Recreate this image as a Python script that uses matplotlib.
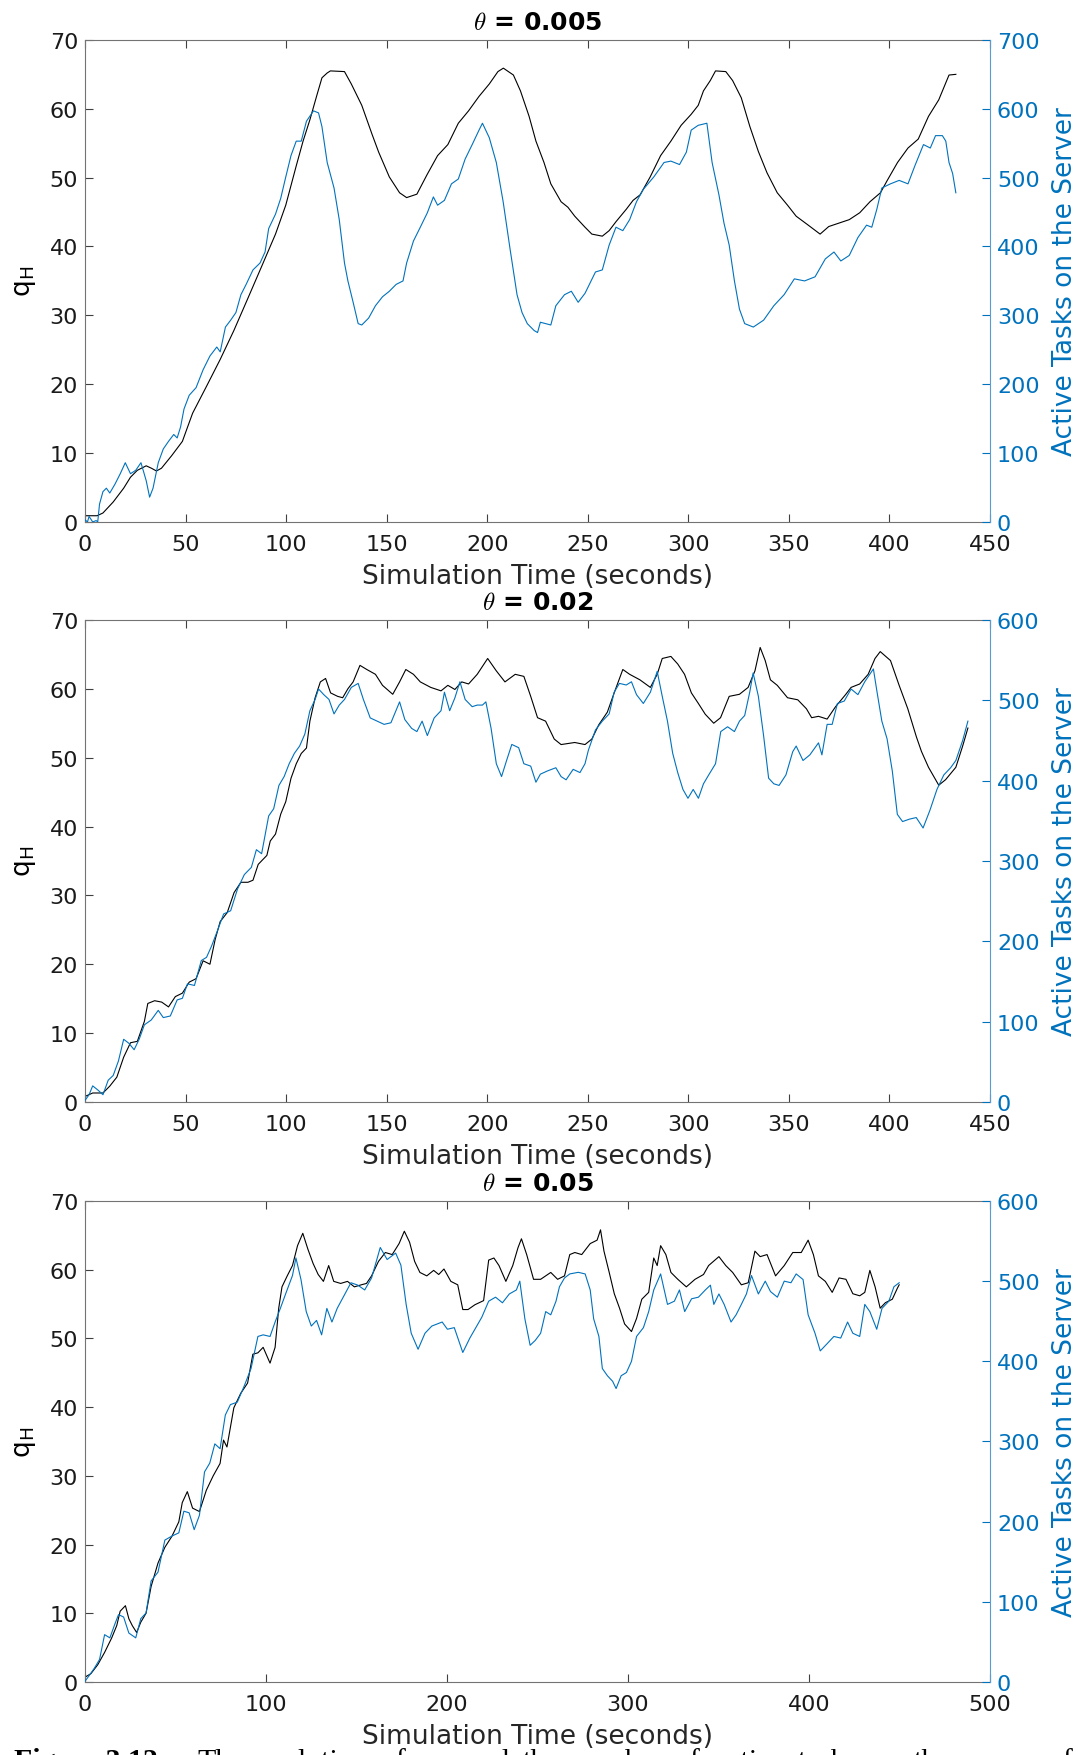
import numpy as np
import matplotlib
matplotlib.use('Agg')
import matplotlib.pyplot as plt

plt.rcParams['font.family'] = ['DejaVu Sans']
plt.rcParams['mathtext.fontset'] = 'cm'

BLUE = '#0072BD'
AX_GRAY = '#404040'

# (time in s, q_H) and (time in s, active tasks) for each theta
qh_005 = [
    (0, 0.9), (6, 0.9), (8.9, 1.3), (14, 2.9), (19.2, 4.9), (22.6, 6.5), (26, 7.5),
    (30.4, 8.15), (33, 7.8), (35.5, 7.4), (38, 7.8), (43, 9.6), (48.4, 11.7),
    (51, 13.8), (53.5, 15.8), (60.4, 19.7), (67.2, 23.6), (74, 27.8), (81, 32.5),
    (87.8, 37.1), (94.7, 41.8), (99.8, 46), (105, 51.7), (108.4, 55.3), (111.8, 58.4),
    (115.3, 62), (117.8, 64.5), (120.4, 65.2), (122, 65.5), (129, 65.4), (132.4, 63.6),
    (137.6, 60.5), (142.7, 56.3), (146, 53.7), (151.3, 50.1), (156.4, 47.8),
    (159.9, 47.1), (165, 47.6), (170, 50.4), (175.3, 53.2), (180.4, 54.8),
    (185.6, 57.9), (190.7, 59.7), (195.9, 61.8), (201, 63.6), (205.3, 65.4),
    (208, 65.9), (213, 64.9), (216.5, 62.6), (220.8, 58.9), (224.2, 55.3),
    (228.2, 52.2), (231.6, 49.1), (236.7, 46.5), (240.1, 45.7), (243.5, 44.4),
    (248.6, 42.8), (252, 41.8), (257.2, 41.5), (260.6, 42.3), (264, 43.6),
    (269.1, 45.4), (272.5, 46.7), (276, 47.5), (281, 50.1), (286.2, 53.2),
    (291.3, 55.3), (296.4, 57.6), (301.4, 59.2), (304.9, 60.5), (307.5, 62.6),
    (310.9, 64.1), (313.5, 65.5), (318.6, 65.4), (322, 64.1), (326.3, 61.6),
    (330.6, 57.4), (334.8, 53.8), (339.1, 50.7), (344.2, 47.8), (349.3, 46),
    (353.6, 44.4), (359.6, 43.1), (365.5, 41.8), (369.8, 42.9), (374.9, 43.4),
    (380, 43.9), (385.2, 44.9), (390.3, 46.5), (395.5, 47.8), (398.9, 49.6),
    (404, 52.2), (409.2, 54.3), (414.3, 55.6), (419.4, 58.9), (424.5, 61.3),
    (429.6, 64.9), (433, 65),
]
tasks_005 = [
    (0, 3), (1.2, 0), (2, 8), (3.8, 0), (5.5, 2), (6.3, 0), (7.2, 26), (8.9, 44),
    (10.6, 49), (12.3, 42), (14.9, 55), (17.5, 70), (20, 86), (22.6, 70), (25.2, 75),
    (27.8, 86), (30.4, 60), (32.1, 36), (33.8, 49), (36.4, 86), (38.9, 106),
    (41.5, 117), (44.1, 127), (45.8, 122), (47.5, 138), (49.2, 164), (51.8, 184),
    (55.2, 195), (58.7, 221), (62.1, 241), (65.5, 254), (67.2, 247), (69.8, 283),
    (72.4, 293), (75, 304), (77.5, 330), (80.1, 345), (83.5, 366), (87, 376),
    (89.5, 392), (91.3, 426), (94.7, 447), (97.3, 470), (99.8, 501), (102.4, 532),
    (105, 553), (107.5, 553), (110.1, 582), (113.6, 597), (116.1, 594), (117.8, 574),
    (120.4, 522), (123.8, 485), (126.4, 439), (129, 376), (130.7, 350), (133.3, 319),
    (135.8, 288), (137.6, 286), (141, 296), (144.4, 314), (147.9, 327), (151.3, 335),
    (154.7, 345), (158.1, 350), (159.9, 376), (163.3, 408), (166.7, 428),
    (170.2, 449), (173.2, 472), (175.3, 460), (178.7, 467), (182.2, 491),
    (185.6, 498), (189, 527), (192.5, 548), (195.9, 569), (197.6, 579), (201, 558),
    (204.5, 522), (207.9, 465), (211.3, 397), (214.8, 330), (217.3, 304),
    (219.9, 288), (223.3, 278), (225, 275), (226.4, 290), (231.6, 286), (234.1, 314),
    (238.4, 330), (241.8, 335), (245.2, 319), (248.6, 332), (253.8, 363),
    (257.2, 366), (260.6, 402), (264, 428), (267.4, 423), (270.8, 439), (274.2, 465),
    (277.6, 483), (282.8, 501), (287.9, 522), (291.3, 524), (295.6, 519), (299, 537),
    (301.4, 569), (304.9, 576), (309.2, 579), (311.8, 522), (315.2, 475),
    (317.7, 434), (320.3, 402), (322.9, 350), (325.4, 309), (328, 288), (332.3, 283),
    (337.4, 293), (342.5, 314), (347.6, 330), (352.7, 353), (357.8, 350), (363, 356),
    (368.1, 382), (372.4, 392), (375.8, 379), (380, 387), (384.3, 413), (388.6, 431),
    (391.2, 428), (393.7, 454), (396.2, 485), (400.5, 491), (404.8, 496),
    (409.2, 491), (412.6, 517), (416.9, 548), (420.3, 543), (422.9, 561),
    (426.3, 561), (428, 553), (429.6, 522), (431.4, 506), (433, 478),
]

qh_02 = [
    (0, 0.8), (3.8, 1.3), (8.9, 1.3), (12.3, 2.3), (15.8, 3.6), (19.2, 6.5),
    (22.6, 8.6), (26, 8.8), (29.5, 11.7), (31.2, 14.3), (34.6, 14.7), (38.1, 14.5),
    (41.5, 13.8), (44.9, 15.3), (48.4, 15.8), (51.8, 17.4), (55.2, 17.9),
    (58.7, 20.5), (62.1, 20), (64.7, 23.6), (67.2, 26.2), (70.7, 27.5), (74.1, 30.4),
    (77.5, 31.9), (81, 31.9), (83.5, 32.2), (86.1, 34.5), (90.4, 35.8), (92.1, 37.9),
    (94.7, 38.9), (97.3, 41.8), (99.8, 43.6), (102.4, 47), (105, 49.1),
    (107.5, 50.6), (110.1, 51.4), (111.8, 55.3), (114.4, 58.7), (117, 61),
    (119.6, 61.5), (122.1, 59.4), (125.6, 58.9), (128.1, 58.7), (130.7, 60),
    (133.3, 61), (136.7, 63.4), (140.1, 62.8), (144.4, 62.1), (147.9, 60.5),
    (153, 59.2), (156.4, 61), (159.5, 62.8), (163.3, 62.1), (166.7, 61),
    (171.9, 60.2), (177, 59.7), (180.4, 60.5), (183.9, 59.9), (187.3, 61),
    (190.7, 60.7), (195, 62.1), (200.2, 64.4), (204.5, 62.6), (208.8, 61),
    (213.9, 62.1), (218.2, 61.8), (221.6, 58.9), (225, 55.8), (229, 55.3),
    (233.3, 52.7), (236.7, 51.9), (243.5, 52.2), (248.6, 51.9), (252, 52.7),
    (255.5, 54.8), (259.7, 56.6), (263.1, 59.4), (267.4, 62.8), (270.8, 62.1),
    (275.9, 61.3), (281.1, 60.2), (284.5, 62.1), (287, 64.4), (291.3, 64.7),
    (294.7, 63.6), (298.1, 62.1), (301.5, 59.4), (304.9, 57.9), (308.4, 56.3),
    (312.6, 55), (316, 55.8), (320.3, 58.9), (325.4, 59.2), (329.7, 60.2),
    (333.1, 62.6), (335.7, 66), (338.2, 64.1), (340.8, 61.3), (344.2, 60.5),
    (349.3, 58.7), (354.4, 58.4), (358.7, 57.1), (361.3, 55.8), (364.7, 56),
    (369, 55.6), (373.2, 57.4), (378.3, 59.2), (380.9, 60.2), (385.2, 60.7),
    (389.4, 62.1), (392.8, 64.4), (395.4, 65.4), (400.5, 64.1), (404.8, 60.5),
    (409.1, 57.1), (413.4, 53), (415.9, 50.9), (419.4, 48.6), (424.5, 46),
    (427.9, 46.8), (433, 48.6), (436.4, 51.7), (439, 54.3),
]
tasks_02 = [
    (0, 2), (2, 9), (3.8, 20), (6.3, 15), (8.9, 9), (11.5, 27), (14, 33), (16.6, 51),
    (19.2, 78), (21.8, 73), (24.4, 65), (26.9, 78), (29.5, 96), (32.9, 102),
    (36.4, 114), (38.9, 105), (42.4, 107), (45.8, 127), (48.4, 129), (50.9, 147),
    (54.4, 145), (57.8, 176), (60.4, 180), (62.9, 194), (65.5, 211), (68.9, 234),
    (72.4, 238), (75.8, 265), (79.2, 283), (82.7, 292), (85.2, 314), (87.8, 309),
    (91.3, 356), (93.8, 365), (96.4, 394), (99, 405), (101.5, 421), (104.1, 434),
    (106.7, 443), (109.3, 458), (111.8, 487), (114.4, 501), (116.1, 514),
    (118.7, 507), (121.3, 501), (123.8, 483), (126.4, 494), (129, 501), (132.4, 516),
    (135.8, 521), (138.4, 501), (141.8, 478), (145.3, 474), (148.7, 470),
    (152.1, 472), (156.4, 498), (159, 476), (162.4, 465), (165, 461), (167.6, 474),
    (170.2, 456), (173.6, 478), (177, 487), (178.7, 510), (181.3, 487), (183.9, 503),
    (186.4, 523), (189, 501), (192.5, 492), (195, 494), (197.6, 494), (199.3, 498),
    (201.9, 465), (204.5, 421), (207.1, 405), (209.6, 425), (212.2, 445),
    (215.6, 441), (218.2, 421), (221.6, 418), (224.2, 398), (226.4, 408),
    (229.9, 412), (234.1, 416), (236.7, 405), (239.2, 401), (242.7, 414),
    (246.1, 410), (248.6, 421), (250.3, 438), (253.8, 463), (257.2, 474),
    (260.6, 483), (263.1, 510), (265.7, 521), (269.1, 519), (271.7, 523),
    (274.2, 507), (277.6, 496), (281.1, 510), (284.5, 536), (287, 505), (289.6, 474),
    (292.2, 434), (294.7, 410), (297.3, 389), (299.8, 378), (302.4, 389), (305, 378),
    (307.5, 396), (310.1, 407), (313.5, 421), (316.1, 461), (319.5, 467),
    (322.9, 461), (325.4, 474), (328, 481), (330.5, 510), (332.2, 534), (334.8, 505),
    (337.4, 456), (339.9, 403), (342.5, 396), (345.1, 394), (348.5, 407),
    (351.9, 436), (353.6, 443), (357, 425), (360.4, 432), (364.7, 447), (366.4, 432),
    (369, 470), (371.5, 470), (374.1, 496), (377.5, 499), (380.9, 514), (384.3, 507),
    (387.7, 523), (392, 539), (393.7, 512), (396.2, 474), (398.8, 452), (401.4, 412),
    (403.9, 358), (406.5, 349), (409.9, 352), (413.3, 354), (416.7, 341),
    (420.1, 363), (423.6, 389), (427, 407), (430.4, 416), (433, 425), (436.4, 450),
    (439, 474),
]

qh_05 = [
    (0, 0.7), (3.2, 1.2), (7, 2.5), (10.8, 4.3), (14.7, 6.4), (17.5, 8.2),
    (19.4, 10.3), (22.3, 11.1), (24.2, 9.2), (26.1, 8.2), (28.5, 7.2), (30.8, 8.7),
    (33.7, 10), (36.5, 13.9), (40.3, 17.3), (44.1, 19.6), (48, 21.2), (51.8, 23.3),
    (53.7, 26.1), (56.5, 27.7), (59.4, 25.3), (63.2, 24.8), (67, 27.9), (70.8, 30),
    (74.6, 31.8), (76.5, 35.2), (78.4, 34.2), (82.2, 39.9), (86, 42), (89.8, 43.5),
    (92.7, 47.7), (95.5, 47.9), (98.4, 48.7), (102.2, 46.4), (105, 48.7),
    (107, 54.4), (108.8, 57.5), (111.7, 59.1), (114.6, 60.6), (117.4, 63.5),
    (120.3, 65.3), (123.1, 63), (126, 60.9), (128.8, 59.3), (131.7, 58.3),
    (134.6, 60.6), (137.4, 58.3), (141.2, 58), (145, 58.3), (148.8, 57.5),
    (152.6, 57.8), (155.5, 58), (158.3, 59.1), (162.1, 61.2), (165.9, 62.5),
    (169.7, 62.2), (173.5, 63.8), (176.4, 65.6), (179.3, 64), (182.1, 61.2),
    (185, 59.6), (188.8, 59.1), (192.6, 59.9), (195.4, 59.3), (198.3, 60.1),
    (202.1, 58.3), (205.9, 57.8), (208.7, 54.2), (211.6, 54.2), (215.4, 54.9),
    (220.2, 55.5), (223, 61.4), (225.9, 61.7), (228.7, 60.6), (232.5, 58.3),
    (236.3, 60.6), (239.2, 63.2), (241.1, 64.5), (244, 62.2), (247.8, 58.6),
    (251.7, 58.6), (257.3, 59.6), (261.1, 58.6), (264.9, 59.1), (267.8, 62.2),
    (270.6, 62.5), (274.4, 62.2), (279.1, 63.8), (282.9, 64.3), (284.8, 65.8),
    (286.7, 62.7), (289.6, 59.6), (292.4, 56.5), (295.3, 54.4), (298.1, 52.1),
    (301.9, 51), (304.7, 52.9), (307.6, 55.7), (311.4, 56.7), (314.2, 61.7),
    (316.1, 60.6), (318, 63.5), (320.9, 62.2), (323.7, 59.6), (327.5, 58.6),
    (332.2, 57.5), (337, 58.6), (341.7, 59.3), (344.5, 60.6), (350.2, 61.9),
    (354, 60.6), (357.8, 59.6), (362.6, 57.8), (366.4, 58.1), (370.1, 62.7),
    (373, 61.9), (376.8, 62.2), (381.5, 59.1), (386.3, 60.6), (391, 62.5),
    (395.7, 62.5), (399.5, 64.3), (402.4, 62.2), (405.2, 59.1), (409, 58.3),
    (412.8, 56.7), (416.6, 58.8), (420.4, 58.6), (424.2, 56.5), (428, 56.2),
    (430.8, 56.7), (433.6, 59.9), (436.5, 57.5), (439.3, 54.4), (442.2, 55.2),
    (446, 55.7), (448.8, 57.3), (449.8, 57.8),
]
tasks_05 = [
    (0, 1), (2.3, 8), (5.1, 17), (8, 28), (10.8, 59), (13.7, 55), (16.6, 73),
    (18.5, 84), (21.3, 81), (24.2, 61), (28, 55), (30.8, 79), (33.7, 86), (36.5, 126),
    (40.3, 137), (44.1, 177), (48, 182), (51.8, 186), (54.6, 213), (57.5, 211),
    (60.3, 190), (63.2, 208), (66, 262), (68.9, 273), (71.7, 297), (74.6, 291),
    (77.5, 333), (80.3, 346), (84.1, 349), (87.9, 369), (91.7, 391), (95.5, 431),
    (98.4, 433), (102.2, 431), (105, 449), (107.9, 466), (110.8, 484), (114.6, 507),
    (116.5, 529), (119.3, 502), (122.2, 462), (125, 444), (127.9, 451), (130.7, 433),
    (133.6, 466), (136.4, 449), (139.3, 466), (143.1, 482), (146.9, 498),
    (150.7, 495), (154.5, 489), (158.3, 504), (163.1, 542), (166.9, 527),
    (171.6, 535), (174.5, 520), (177.4, 471), (180.2, 435), (184, 415), (187.8, 435),
    (191.6, 444), (197.3, 449), (200.2, 440), (204, 442), (208.7, 411), (212.6, 429),
    (216.4, 444), (219.2, 455), (223, 475), (226.8, 480), (230.6, 473), (234.4, 484),
    (238.3, 489), (240.2, 500), (243, 453), (245.9, 420), (248.7, 426), (251.7, 435),
    (254.5, 462), (257.3, 458), (260.2, 475), (262.1, 493), (264.9, 504),
    (267.8, 509), (272.5, 511), (276.3, 509), (279.1, 489), (281, 453), (283.9, 431),
    (285.8, 391), (288.6, 382), (291.5, 375), (293.4, 366), (296.2, 382),
    (299.1, 386), (301.9, 400), (304.7, 431), (308.5, 442), (311.4, 462),
    (314.2, 489), (318, 509), (321.8, 471), (325.6, 475), (328.4, 489), (331.3, 462),
    (335.1, 478), (338.9, 480), (342.7, 489), (345.5, 495), (347.4, 471),
    (350.2, 484), (353.1, 471), (356.9, 449), (359.7, 458), (362.6, 471),
    (365.4, 484), (368.2, 507), (372, 484), (375.8, 500), (378.7, 487), (382.5, 480),
    (386.3, 500), (390, 498), (392.9, 509), (396.7, 502), (399.5, 458), (403.3, 435),
    (406.2, 413), (410, 422), (413.7, 431), (417.5, 429), (421.3, 449), (424.2, 435),
    (428, 431), (430.8, 471), (433.6, 462), (437.4, 440), (440.3, 466), (444.1, 475),
    (446.9, 493), (449.8, 498),
]

thetas = ['0.005', '0.02', '0.05']
x_max = [450, 450, 500]
x_step = [50, 50, 100]
tasks_max = [700, 600, 600]

caption_words = ['The', 'evolution', 'of', r'$q_H$', 'and', 'the', 'number', 'of',
                 'active', 'tasks', 'on', 'the', 'server', 'of']


def draw_panel(ax, qh, tasks, theta, xmax, xstep, nmax):
    t, q = np.array(qh).T
    ax.plot(t, q, color='black', lw=0.8)
    ax.set_xlim(0, xmax)
    ax.set_ylim(0, 70)
    ax.set_xticks(np.arange(0, xmax + 1, xstep))
    ax.set_yticks(np.arange(0, 71, 10))
    ax.tick_params(direction='in', length=6, width=0.8, colors=AX_GRAY,
                   labelcolor='#1a1a1a', labelsize=16, top=True, right=False)
    ax.tick_params(axis='x', pad=9)
    ax.tick_params(axis='y', pad=5)
    for side in ['left', 'bottom', 'top']:
        ax.spines[side].set_color('0.45')
        ax.spines[side].set_linewidth(0.8)
    ax.spines['right'].set_visible(False)
    ax.set_ylabel(r'$\mathregular{q_H}$', fontsize=19, labelpad=8)
    ax.set_xlabel('Simulation Time (seconds)', fontsize=19, color='#262626',
                  labelpad=6)
    ax.set_title(r'$\theta$ = ' + theta, fontsize=18, fontweight='bold', pad=8)

    ax2 = ax.twinx()
    tt, n = np.array(tasks).T
    ax2.plot(tt, n, color=BLUE, lw=0.8)
    ax2.set_ylim(0, nmax)
    ax2.set_yticks(np.arange(0, nmax + 1, 100))
    ax2.tick_params(direction='in', length=6, width=0.8, colors=BLUE,
                    labelsize=16, pad=5)
    for side in ['left', 'bottom', 'top']:
        ax2.spines[side].set_visible(False)
    ax2.spines['right'].set_color('#5b9bd0')
    ax2.spines['right'].set_linewidth(0.8)
    ax2.set_ylabel('Active Tasks on the Server', fontsize=19, color=BLUE,
                   labelpad=9)


W, H = 1078, 1756
fig = plt.figure(figsize=(W / 100, H / 100), dpi=100)
rects = [
    [0.0789, 0.7022, 0.8395, 0.2745],
    [0.0789, 0.3719, 0.8395, 0.2745],
    [0.0789, 0.0416, 0.8395, 0.2739],
]
series = [(qh_005, tasks_005), (qh_02, tasks_02), (qh_05, tasks_05)]
for rect, (qh, tasks), theta, xm, xs, nm in zip(rects, series, thetas, x_max,
                                                 x_step, tasks_max):
    ax = fig.add_axes(rect)
    draw_panel(ax, qh, tasks, theta, xm, xs, nm)

# figure caption, only its upper part falls inside the canvas;
# words are spread out as in a justified line
cap_y = -0.0072
fig.text(14 / W, cap_y, 'Figure 3.12:', family='Liberation Serif',
         fontweight='bold', fontsize=21.5, va='baseline', ha='left')
renderer = fig.canvas.get_renderer()
word_texts = [fig.text(0, cap_y, w, family='Liberation Serif', fontsize=21.5,
                       va='baseline', ha='left') for w in caption_words]
widths = [tx.get_window_extent(renderer=renderer).width for tx in word_texts]
x0, x1 = 197, 1074
gap = (x1 - x0 - sum(widths)) / (len(widths) - 1)
x = x0
for tx, w in zip(word_texts, widths):
    tx.set_x(x / W)
    x += w + gap

fig.savefig('out.png', dpi=100)
